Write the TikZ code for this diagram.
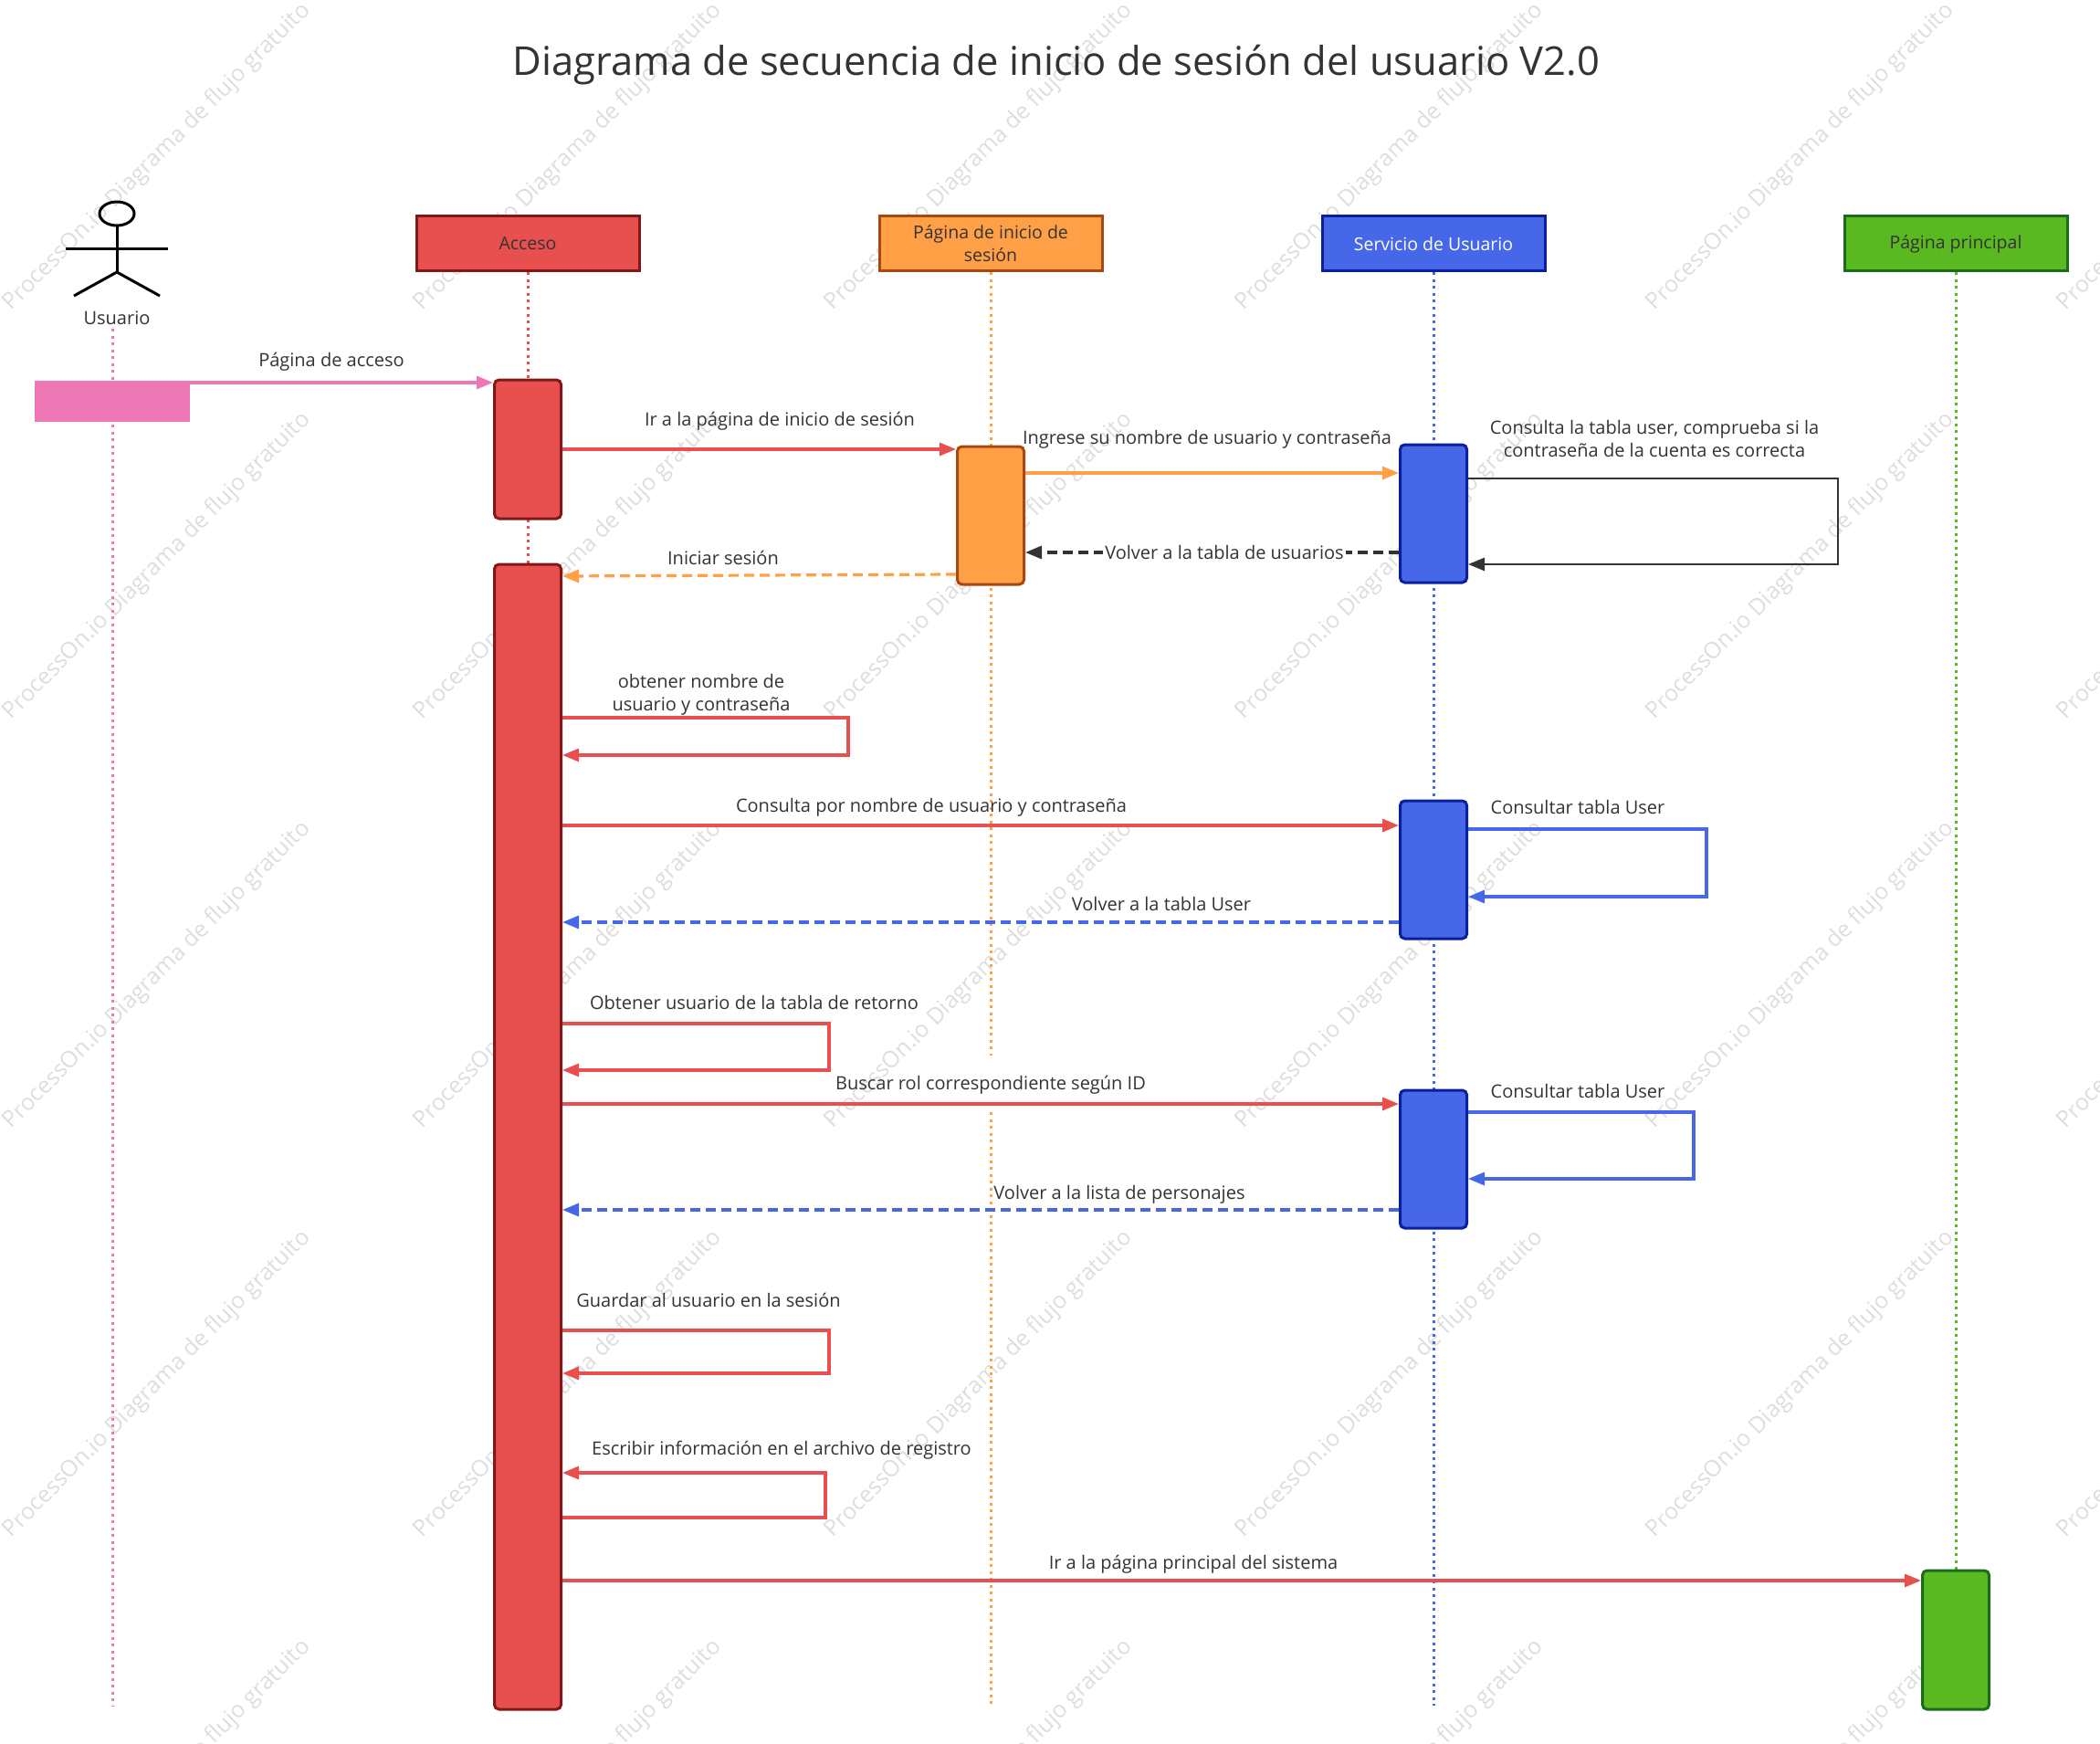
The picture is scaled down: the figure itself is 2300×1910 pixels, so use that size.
\documentclass[tikz,border=0pt]{standalone}
\usepackage{fontspec}
\setmainfont{Open Sans}
\usetikzlibrary{arrows.meta,calc}
\definecolor{cRed}{HTML}{E85050}
\definecolor{cRedD}{HTML}{801818}
\definecolor{cOr}{HTML}{FFA046}
\definecolor{cOrD}{HTML}{A84810}
\definecolor{cBl}{HTML}{4668E8}
\definecolor{cBlD}{HTML}{0A1E9E}
\definecolor{cGr}{HTML}{5AB820}
\definecolor{cGrD}{HTML}{1C6A1C}
\definecolor{cPk}{HTML}{EE78B6}
\definecolor{txt}{HTML}{333333}
\definecolor{wmc}{HTML}{DEDEDE}
\tikzset{
  lbl/.style={font=\fontsize{20}{25}\selectfont, text=txt, inner sep=0pt, align=center},
  hdr/.style={draw, line width=3pt, minimum width=244pt, minimum height=60pt, inner sep=2pt,
    font=\fontsize{19.5}{25}\selectfont, align=center},
  actbox/.style={draw, line width=3pt, rounded corners=5pt, minimum width=73pt, inner sep=0pt},
  msg/.style={line width=3.2pt, -{Triangle[length=18pt,width=14pt]}},
  retmsg/.style={msg, dash pattern=on 11pt off 6pt},
  life/.style={line width=3pt, dash pattern=on 3pt off 4.5pt},
  wmark/.style={font=\fontsize{25}{30}\selectfont, text=wmc, rotate=45, inner sep=0pt},
  actor/.style={line width=3pt, black}
}
\begin{document}
\begin{tikzpicture}[x=1pt,y=-1pt]
\useasboundingbox (0,0) rectangle (2300,1910);
\fill[white] (0,0) rectangle (2300,1910);
% watermark
\begin{scope}
\clip (0,0) rectangle (2300,1910);
\foreach \i in {0,...,5}{\foreach \j in {0,...,4}{
  \node[wmark] (w\i\j) at ({172+450*\i},{172+448*\j}) {ProcessOn.io Diagrama de flujo gratuito};
}}
\end{scope}
% title
\node[font=\fontsize{43.5}{50}\selectfont, text=txt] (title) at (1157,71) {Diagrama de secuencia de inicio de sesión del usuario V2.0};
% actor
\draw[actor] (128,234) ellipse [x radius=19, y radius=13];
\draw[actor] (128,247) -- (128,298);
\draw[actor] (72,273) -- (184,273);
\draw[actor] (81,324) -- (128,298) -- (175,324);
\node[lbl] (usr) at (128,348) {Usuario};
% headers
\node[hdr, fill=cRed, draw=cRedD, text=txt] (h1) at (578,267) {\raisebox{-2pt}{Acceso}};
\node[hdr, fill=cOr, draw=cOrD, text=txt] (h2) at (1085,267) {Página de inicio de\\sesión};
\node[hdr, fill=cBl, draw=cBlD, text=white] (h3) at (1570,267) {\raisebox{-2pt}{Servicio de Usuario}};
\node[hdr, fill=cGr, draw=cGrD, text=txt] (h4) at (2142,267) {\raisebox{-3pt}{Página principal}};
% lifeline ends
\coordinate (e0) at (123,1868);
\coordinate (e1) at (578,1868);
\coordinate (e2a) at (1085,1156);
\coordinate (e2b) at (1085,1218);
\coordinate (e2) at (1085,1866);
\coordinate (e3) at (1570,1868);
\coordinate (e4) at (2142,1720);
\coordinate (s0) at (123,360);
\draw[life, cPk] (s0) -- (e0);
\draw[life, cRed] (h1.south) -- (e1);
\draw[life, cOr] (h2.south) -- (e2a);
\draw[life, cOr] (e2b) -- (e2);
\draw[life, cBl] (h3.south) -- (e3);
\draw[life, cGr] (h4.south) -- (e4);
% activations
\node[fill=cPk, minimum width=170pt, minimum height=45pt, inner sep=0pt] (pk) at (123,439.5) {};
\node[actbox, fill=cRed, draw=cRedD, minimum height=152pt] (a1) at (578,492) {};
\node[actbox, fill=cRed, draw=cRedD, minimum height=1254pt] (a2) at (578,1245) {};
\node[actbox, fill=cOr, draw=cOrD, minimum height=151pt] (o1) at (1085,564.5) {};
\node[actbox, fill=cBl, draw=cBlD, minimum height=151pt] (b1) at (1570,562.5) {};
\node[actbox, fill=cBl, draw=cBlD, minimum height=151pt] (b2) at (1570,952.5) {};
\node[actbox, fill=cBl, draw=cBlD, minimum height=151pt] (b3) at (1570,1269.5) {};
\node[actbox, fill=cGr, draw=cGrD, minimum height=152pt] (g1) at (2142,1796) {};
% messages
\draw[msg, cPk] (pk.east |- 0,419) -- (a1.west |- 0,419);
\node[lbl] (l1) at (363,396) {Página de acceso};
\draw[msg, cRed] (a1.east |- 0,492) -- (o1.west |- 0,492);
\node[lbl] (l2) at (854,461) {Ir a la página de inicio de sesión};
\draw[msg, cOr] (o1.east |- 0,518) -- (b1.west |- 0,518);
\node[lbl] (l3) at (1322,481) {Ingrese su nombre de usuario y contraseña};
\draw[msg, txt, line width=2.6pt] (b1.east |- 0,524) -- ++(405,0) -- ++(0,94) -- (b1.east |- 0,618);
\node[lbl] (l4) at (1812,480) {Consulta la tabla user, comprueba si la\\contraseña de la cuenta es correcta};
\draw[retmsg, txt] (b1.west |- 0,605) -- (o1.east |- 0,605);
\node[lbl, fill=white, inner sep=2pt] (l5) at (1341,605) {Volver a la tabla de usuarios};
\draw[retmsg, cOr] (o1.west |- 0,629) -- (a2.east |- 0,631);
\node[lbl] (l6) at (792,611) {Iniciar sesión};
\draw[msg, cRed] (a2.east |- 0,786) -- ++(313,0) -- ++(0,41) -- (a2.east |- 0,827);
\node[lbl] (l7) at (768,761) {obtener nombre de\\usuario y contraseña};
\draw[msg, cRed] (a2.east |- 0,904) -- (b2.west |- 0,904);
\node[lbl] (l8) at (1020,884) {Consulta por nombre de usuario y contraseña};
\draw[msg, cBl] (b2.east |- 0,908) -- ++(261,0) -- ++(0,74) -- (b2.east |- 0,982);
\node[lbl] (l9) at (1728,884) {Consultar tabla User};
\draw[retmsg, cBl] (b2.west |- 0,1010) -- (a2.east |- 0,1010);
\node[lbl] (l10) at (1272,990) {Volver a la tabla User};
\draw[msg, cRed] (a2.east |- 0,1121) -- ++(292,0) -- ++(0,51) -- (a2.east |- 0,1172);
\node[lbl] (l11) at (826,1098) {Obtener usuario de la tabla de retorno};
\draw[msg, cRed] (a2.east |- 0,1209) -- (b3.west |- 0,1209);
\node[lbl] (l12) at (1085,1188) {Buscar rol correspondiente según ID};
\draw[msg, cBl] (b3.east |- 0,1218) -- ++(247,0) -- ++(0,73) -- (b3.east |- 0,1291);
\node[lbl] (l13) at (1728,1195) {Consultar tabla User};
\draw[retmsg, cBl] (b3.west |- 0,1325) -- (a2.east |- 0,1325);
\node[lbl] (l14) at (1226,1308) {Volver a la lista de personajes};
\draw[msg, cRed] (a2.east |- 0,1457) -- ++(292,0) -- ++(0,47) -- (a2.east |- 0,1504);
\node[lbl] (l15) at (776,1424) {Guardar al usuario en la sesión};
\draw[msg, cRed] (a2.east |- 0,1662) -- ++(288,0) -- ++(0,-49) -- (a2.east |- 0,1613);
\node[lbl] (l16) at (856,1588) {Escribir información en el archivo de registro};
\draw[msg, cRed] (a2.east |- 0,1731) -- (g1.west |- 0,1731);
\node[lbl] (l17) at (1307,1713) {Ir a la página principal del sistema};
\end{tikzpicture}
\end{document}
